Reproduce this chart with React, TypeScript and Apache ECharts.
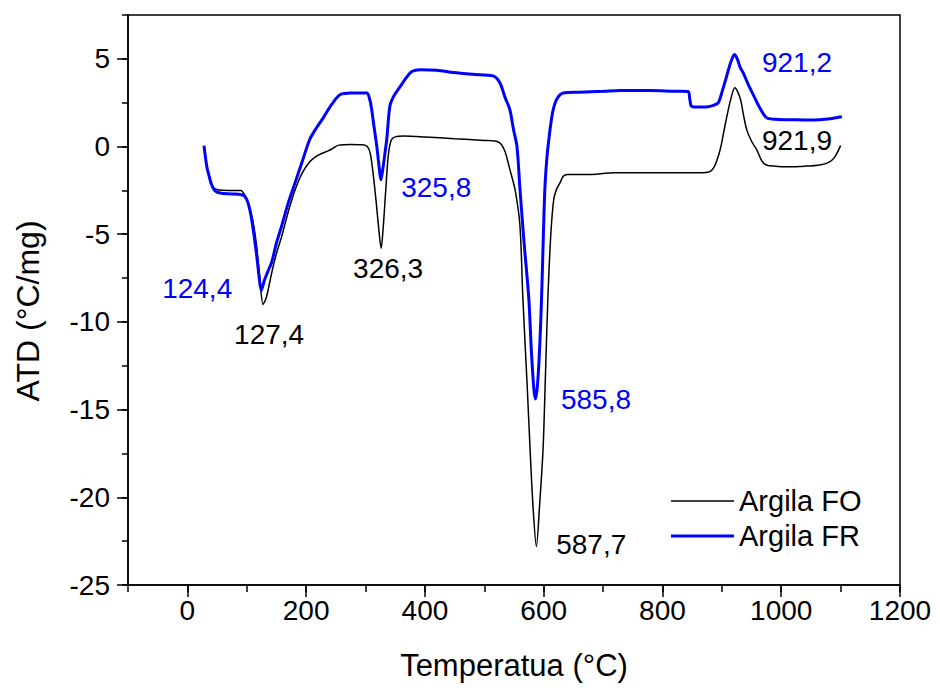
import React, { useEffect, useRef } from "react";
import * as echarts from "echarts";

// Argila FO (black)
const tempFO = [28, 32, 36, 42, 50, 70, 90, 97, 103, 110, 116, 122, 127.4, 133, 142, 150, 159, 170, 181, 192, 204, 215, 226, 237, 245, 255, 275, 295, 303, 308, 313, 318, 322, 326.3, 330, 334, 338, 343, 350, 365, 400, 450, 500, 520, 528, 535, 543, 552, 560, 565, 572, 577, 582, 587.7, 593, 599, 603, 607, 612, 617, 622, 627, 633, 640, 672, 720, 760, 800, 850, 878, 888, 897, 903, 909, 915, 921.9, 927, 932, 937, 942, 950, 959, 967, 975, 990, 1010, 1040, 1065, 1080, 1090, 1100];
const atdFO = [0.0, -1.0, -1.6, -2.3, -2.45, -2.5, -2.5, -2.8, -3.3, -4.2, -5.5, -7.5, -9.0, -8.6, -7.2, -6.1, -5.1, -3.7, -2.5, -1.6, -0.95, -0.6, -0.4, -0.25, -0.1, 0.08, 0.12, 0.1, 0.0, -0.4, -1.6, -3.2, -4.6, -5.8, -4.5, -2.5, -0.6, 0.35, 0.55, 0.6, 0.55, 0.45, 0.35, 0.3, 0.15, -0.3, -1.3, -2.5, -4.5, -8.7, -13.5, -17.2, -20.5, -22.8, -20.5, -17.2, -13.0, -8.7, -5.0, -3.0, -2.4, -2.1, -1.7, -1.6, -1.6, -1.5, -1.5, -1.5, -1.5, -1.45, -1.1, -0.2, 0.8, 1.8, 2.7, 3.35, 3.1, 2.6, 1.7, 0.95, 0.3, -0.2, -0.8, -1.05, -1.12, -1.15, -1.12, -1.05, -0.9, -0.6, 0.05];

// Argila FR (blue)
const tempFR = [28, 30, 33, 36, 40, 46, 55, 75, 91, 97, 102, 107, 112, 117, 121, 124.4, 130, 137, 142, 150, 159, 170, 181, 193, 206, 218, 229, 243, 257, 275, 302, 307, 310, 314, 319, 323, 325.8, 329, 333, 336, 341, 348, 358, 368, 378, 392, 420, 448, 480, 515, 522, 528, 535, 543, 549, 555, 560, 567, 575, 580, 586, 589, 592, 595, 597, 599.5, 602, 605, 608, 612, 616, 622, 633, 660, 700, 728, 780, 820, 843, 846, 849, 860, 874, 886, 894, 901, 908, 915, 921.2, 926, 931, 936, 945, 953, 964, 975, 990, 1009, 1040, 1065, 1085, 1102];
const atdFR = [0.05, -0.5, -1.2, -1.6, -2.1, -2.5, -2.65, -2.7, -2.75, -2.85, -3.2, -3.9, -5.0, -6.3, -7.5, -8.2, -7.6, -7.0, -6.6, -5.5, -4.5, -3.2, -2.1, -0.9, 0.4, 1.1, 1.65, 2.4, 2.95, 3.05, 3.05, 2.7, 2.2, 1.2, 0.0, -1.2, -1.9, -1.3, -0.3, 0.5, 2.3, 2.9, 3.4, 3.9, 4.28, 4.38, 4.35, 4.22, 4.12, 4.03, 3.85, 3.5, 2.8, 2.1, 1.0, 0.0, -2.4, -5.5, -8.7, -12.1, -14.4, -13.8, -12.3, -10.0, -8.0, -5.0, -2.4, -0.8, 0.2, 1.3, 2.1, 2.7, 3.05, 3.1, 3.15, 3.2, 3.2, 3.15, 3.14, 2.7, 2.3, 2.25, 2.26, 2.35, 2.5, 3.2, 4.0, 4.8, 5.25, 5.0, 4.5, 4.2, 3.5, 2.95, 2.2, 1.65, 1.55, 1.53, 1.52, 1.53, 1.6, 1.7];

// Peak annotations: text, anchor (x, y) in data units
const peakTextFO = ["127,4", "326,3", "587,7", "921,9"];
const peakXFO = [137.6, 338, 680, 1026.5];
const peakYFO = [-10.74, -6.93, -22.67, 0.34];
const peakTextFR = ["124,4", "325,8", "585,8", "921,2"];
const peakXFR = [16.5, 419, 688, 1026.5];
const peakYFR = [-8.1, -2.33, -14.43, 4.77];

// Axis ticks
const xMajorTicks = [0, 200, 400, 600, 800, 1000, 1200];
const yMajorTicks = [-25, -20, -15, -10, -5, 0, 5];

const seriesNames = ["Argila FO", "Argila FR"];
const seriesColors = ["#000000", "#0000ff"];
const FONT = "Liberation Sans, Arial, Helvetica, sans-serif";

export default function App() {
  const ref = useRef<HTMLDivElement>(null);
  useEffect(() => {
    if (!ref.current) return;
    const chart = echarts.init(ref.current, null, { renderer: "svg" });
    const zip = (a: number[], b: number[]) => a.map((v, i) => [v, b[i]]);
    const labelSeries = (texts: string[], xs: number[], ys: number[], color: string) => ({
      type: "scatter",
      silent: true,
      symbolSize: 1,
      itemStyle: { color: "rgba(0,0,0,0)", opacity: 1 },
      z: 5,
      data: texts.map((t, i) => ({ value: [xs[i], ys[i]], name: t })),
      label: {
        show: true,
        position: "inside",
        formatter: (p: any) => p.name,
        color,
        opacity: 1,
        textBorderWidth: 0,
        fontSize: 28,
        fontFamily: FONT,
      },
    });
    const legendFor = (i: number, top: number, h: number) => ({
      data: [seriesNames[i]],
      orient: "vertical",
      left: 666,
      top,
      icon: "rect",
      itemWidth: 63,
      itemHeight: h,
      itemStyle: { color: seriesColors[i], borderWidth: 0 },
      selectedMode: false,
      textStyle: { fontSize: 29, fontFamily: FONT, color: "#000", lineHeight: 30 },
    });
    const option: any = {
      animation: false,
      backgroundColor: "#fff",
      grid: {
        left: 128,
        right: 40,
        top: 15,
        bottom: 103,
        show: true,
        borderColor: "#000",
        borderWidth: 1.5,
        backgroundColor: "transparent",
      },
      legend: [legendFor(0, 481, 1.5), legendFor(1, 516, 3)],
      graphic: [
        {
          type: "text",
          x: 28,
          y: 311,
          rotation: Math.PI / 2,
          style: {
            text: "ATD (°C/mg)",
            fontSize: 32,
            fontFamily: FONT,
            fill: "#000",
            align: "center",
            verticalAlign: "middle",
          },
        },
      ],
      xAxis: [
        {
          type: "value",
          min: -100,
          max: 1200,
          interval: 100,
          name: "Temperatua (°C)",
          nameLocation: "middle",
          nameGap: 65,
          nameTextStyle: { fontSize: 31, fontFamily: FONT, color: "#000" },
          axisLine: { show: true, onZero: false, lineStyle: { color: "#000", width: 1.5 } },
          axisTick: { show: true, length: 7, lineStyle: { color: "#000", width: 1.5 } },
          axisLabel: {
            fontSize: 28,
            fontFamily: FONT,
            color: "#000",
            margin: 11,
            formatter: (v: number) => (xMajorTicks.indexOf(v) >= 0 ? String(v) : ""),
          },
          splitLine: { show: false },
        },
        {
          type: "value",
          min: -100,
          max: 1200,
          position: "bottom",
          axisLine: { show: false, onZero: false },
          axisTick: { show: true, length: 12, customValues: xMajorTicks, lineStyle: { color: "#000", width: 1.5 } },
          axisLabel: { show: false },
          splitLine: { show: false },
        },
      ],
      yAxis: [
        {
          type: "value",
          min: -25,
          max: 7.5,
          interval: 2.5,
          axisLine: { show: true, onZero: false, lineStyle: { color: "#000", width: 1.5 } },
          axisTick: { show: true, length: 6, lineStyle: { color: "#000", width: 1.5 } },
          axisLabel: {
            fontSize: 28,
            fontFamily: FONT,
            color: "#000",
            margin: 18,
            formatter: (v: number) => (yMajorTicks.indexOf(v) >= 0 ? String(v) : ""),
          },
          splitLine: { show: false },
        },
        {
          type: "value",
          min: -25,
          max: 7.5,
          position: "left",
          axisLine: { show: false, onZero: false },
          axisTick: { show: true, length: 11, customValues: yMajorTicks, lineStyle: { color: "#000", width: 1.5 } },
          axisLabel: { show: false },
          splitLine: { show: false },
        },
      ],
      series: [
        {
          name: seriesNames[0],
          type: "line",
          symbol: "none",
          smooth: 0.3,
          data: zip(tempFO, atdFO),
          lineStyle: { color: seriesColors[0], width: 1.5 },
          itemStyle: { color: seriesColors[0] },
          z: 3,
        },
        {
          name: seriesNames[1],
          type: "line",
          symbol: "none",
          smooth: 0.3,
          data: zip(tempFR, atdFR),
          lineStyle: { color: seriesColors[1], width: 3 },
          itemStyle: { color: seriesColors[1] },
          z: 4,
        },
        labelSeries(peakTextFO, peakXFO, peakYFO, seriesColors[0]),
        labelSeries(peakTextFR, peakXFR, peakYFR, seriesColors[1]),
      ],
    };
    chart.setOption(option);
    return () => chart.dispose();
  }, []);
  return (
    <div
      ref={ref}
      style={{ position: "fixed", left: 0, top: 0, width: 940, height: 688, background: "#fff" }}
    />
  );
}
